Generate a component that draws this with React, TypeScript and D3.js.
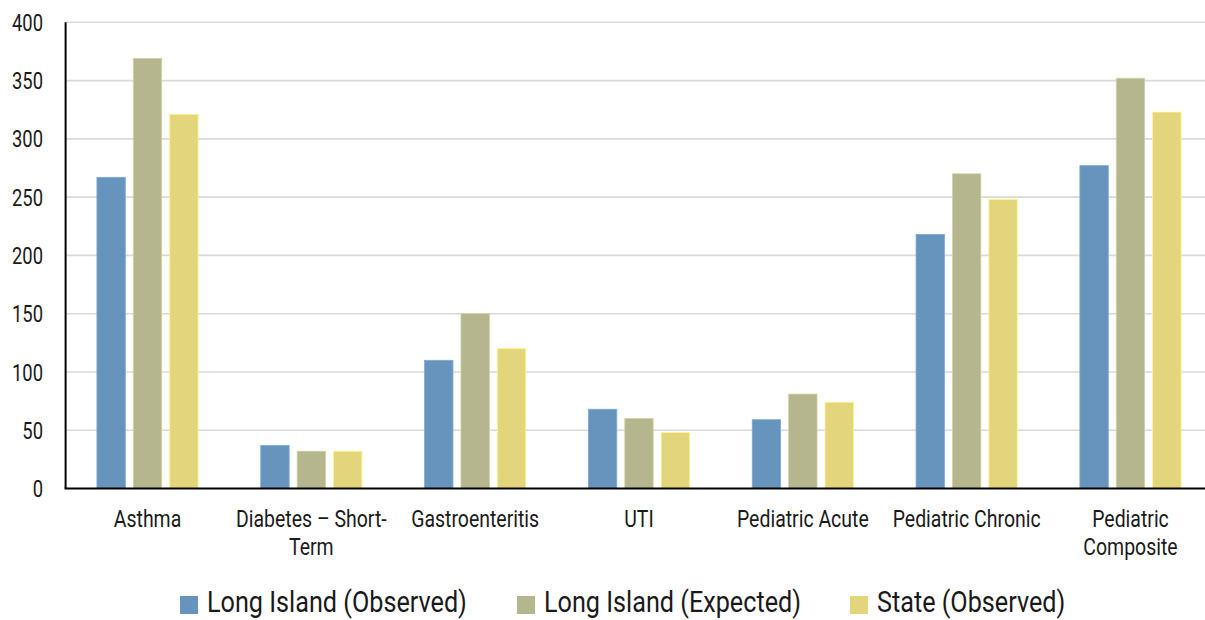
import React, { useEffect, useRef } from 'react';
import * as d3 from 'd3';

const categories = [
  'Asthma',
  'Diabetes – Short-Term',
  'Gastroenteritis',
  'UTI',
  'Pediatric Acute',
  'Pediatric Chronic',
  'Pediatric Composite',
];
// wrapped axis labels, as in the source
const categoryLines = [
  ['Asthma'],
  ['Diabetes – Short-', 'Term'],
  ['Gastroenteritis'],
  ['UTI'],
  ['Pediatric Acute'],
  ['Pediatric Chronic'],
  ['Pediatric', 'Composite'],
];
const seriesNames = ['Long Island (Observed)', 'Long Island (Expected)', 'State (Observed)'];
const observedLI = [267, 37, 110, 68, 59, 218, 277];
const expectedLI = [369, 32, 150, 60, 81, 270, 352];
const observedState = [321, 32, 120, 48, 74, 248, 323];
const yTicks = [0, 50, 100, 150, 200, 250, 300, 350, 400];
const colors = ['#6794bd', '#b5b68d', '#e2d57b'];

const FONT = 'Roboto, "Liberation Sans", sans-serif';
const INK = '#1a1a1a';

// horizontal squeeze so a normal-width font looks condensed
function squeeze(
  sel: d3.Selection<SVGTextElement, any, any, any>,
  sample: string,
  target: number,
) {
  const node = sel.node() as SVGTextElement;
  const old = node.textContent;
  node.textContent = sample;
  const w = node.getComputedTextLength();
  node.textContent = old;
  return w > 0 ? target / w : 1;
}

const App: React.FC = () => {
  const ref = useRef<SVGSVGElement>(null);

  useEffect(() => {
    if (!ref.current) return;
    const width = 1205, height = 620;
    const left = 65.6, right = 1212.4, top = 22.3, bottom = 488.5;

    const svg = d3.select(ref.current);
    svg.selectAll('*').remove();
    svg.attr('width', width).attr('height', height);

    const values = [observedLI, expectedLI, observedState];
    const rows = categories.map((c, i) => ({ c, v: values.map(s => s[i]) }));

    const x0 = d3.scaleBand<string>().domain(categories).range([left, right]).padding(0);
    const bw = x0.bandwidth();
    const half = 1.5 * 36.4;
    const x1 = d3.scaleBand<string>()
      .domain(seriesNames)
      .range([bw / 2 - half, bw / 2 + half])
      .paddingInner(0.22)
      .paddingOuter(0.11);
    const y = d3.scaleLinear().domain([0, 400]).range([bottom, top]);

    // grid
    svg.append('g')
      .selectAll('line')
      .data(yTicks.filter(t => t > 0))
      .join('line')
      .attr('x1', left).attr('x2', right)
      .attr('y1', d => y(d)).attr('y2', d => y(d))
      .attr('stroke', '#d9d9d9').attr('stroke-width', 1.6);

    // y tick labels
    const tt = svg.append('g')
      .selectAll('g')
      .data(yTicks)
      .join('g')
      .attr('transform', d => `translate(43,${y(d)})`)
      .append('text')
      .attr('dy', '0.36em')
      .attr('text-anchor', 'end')
      .attr('font-family', FONT)
      .attr('font-size', 24)
      .attr('fill', INK)
      .text(d => d);
    tt.attr('transform', `scale(${squeeze(tt, '400', 31)},1)`);

    // bars
    svg.append('g')
      .selectAll('g')
      .data(rows)
      .join('g')
      .attr('transform', d => `translate(${x0(d.c)},0)`)
      .selectAll('rect')
      .data(d => d.v.map((v, k) => ({ k, v })))
      .join('rect')
      .attr('x', d => x1(seriesNames[d.k]) as number)
      .attr('width', x1.bandwidth())
      .attr('y', d => y(d.v))
      .attr('height', d => y(0) - y(d.v))
      .attr('fill', d => colors[d.k])
      .attr('stroke', d => d3.color(colors[d.k])!.brighter(0.4).formatHex())
      .attr('stroke-width', 0.8);

    // axis lines
    svg.append('line')
      .attr('x1', left).attr('x2', left).attr('y1', top).attr('y2', bottom)
      .attr('stroke', '#000').attr('stroke-width', 2);
    svg.append('line')
      .attr('x1', left - 1).attr('x2', right).attr('y1', bottom).attr('y2', bottom)
      .attr('stroke', '#000').attr('stroke-width', 2);

    // category labels
    const lab = svg.append('g')
      .selectAll('g')
      .data(categories)
      .join('g')
      .attr('transform', d => `translate(${(x0(d) as number) + bw / 2},526.5)`)
      .append('text')
      .attr('text-anchor', 'middle')
      .attr('font-family', FONT)
      .attr('font-size', 23)
      .attr('fill', INK);
    lab.selectAll('tspan')
      .data((d, i) => categoryLines[i])
      .join('tspan')
      .attr('x', 0)
      .attr('dy', (d, i) => (i === 0 ? 0 : 29))
      .text(d => d);
    lab.attr('transform', `scale(${squeeze(lab, 'Gastroenteritis', 128)},1)`);

    // legend
    const legendX = [180, 517, 850];
    const lg = svg.append('g')
      .selectAll('g')
      .data(seriesNames)
      .join('g')
      .attr('transform', (d, i) => `translate(${legendX[i]},596)`);
    lg.append('rect')
      .attr('width', 18).attr('height', 18)
      .attr('fill', (d, i) => colors[i]);
    const lt = lg.append('g')
      .attr('transform', 'translate(27,16)')
      .append('text')
      .attr('font-family', FONT)
      .attr('font-size', 29)
      .attr('fill', INK)
      .text(d => d);
    lt.attr('transform', `scale(${squeeze(lt, 'Long Island (Observed)', 260)},1)`);
  }, []);

  return (
    <svg
      ref={ref}
      style={{ position: 'fixed', left: 0, top: 0, display: 'block', background: '#fff' }}
    />
  );
};

export default App;
